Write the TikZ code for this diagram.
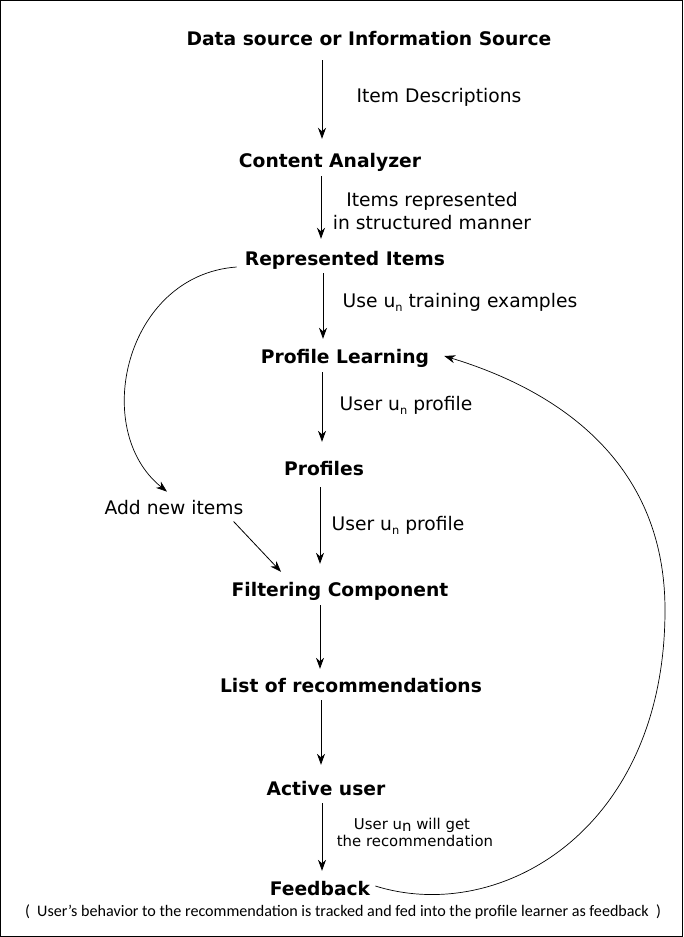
\documentclass[tikz,border=0pt]{standalone}
\usepackage{fontspec}
\setmainfont{DejaVu Sans}
\newfontfamily\notefont{Carlito}
\usetikzlibrary{arrows.meta}
\newcommand\subn{\raisebox{-0.22em}{\fontsize{11.4}{12}\selectfont n}}
\newcommand\lown{\raisebox{-0.2em}{n}}
\begin{document}
\begin{tikzpicture}[x=1pt,y=-1pt,
  head/.style={font=\fontsize{18.7}{20}\selectfont\bfseries, anchor=base, inner sep=0pt, text height=14pt, text depth=4pt},
  lab/.style={font=\fontsize{18.7}{21}\selectfont, anchor=base, inner sep=0pt},
  smalllab/.style={font=\fontsize{14.9}{17}\selectfont, anchor=base, inner sep=0pt},
  note/.style={font=\notefont\fontsize{16.1}{18}\selectfont, anchor=base, inner sep=0pt},
  arr/.style={draw, line width=0.8pt, -{Stealth[length=11pt,width=8pt,inset=3.5pt]}},
  curvearr/.style={draw, line width=0.7pt, -{Stealth[length=11pt,width=8pt,inset=3.5pt]}}
]
\useasboundingbox (0,0) rectangle (683,937);
\draw[line width=1pt] (0.5,0.5) rectangle (682.5,936.5);

% main nodes
\node[head] (ds) at (369,45) {Data source or Information Source};
\node[head] (ca) at (330,167) {Content Analyzer};
\node[head] (ri) at (345,265) {Represented Items};
\node[head] (pl) at (345,363) {Profile Learning};
\node[head] (pr) at (324,475) {Profiles};
\node[head] (fc) at (340,596) {Filtering Component};
\node[head] (lr) at (351,692) {List of recommendations};
\node[head] (au) at (326,795) {Active user};
\node[head] (fb) at (320,895) {Feedback};

% labels
\node[lab] (l1) at (439,102) {Item Descriptions};
\node[lab] (l2a) at (432,206) {Items represented};
\node[lab] (l2b) at (432,229) {in structured manner};
\node[lab] (l3) at (460,307) {Use u\subn{} training examples};
\node[lab] (l4) at (406,410) {User u\subn{} profile};
\node[lab] (l5) at (398,530) {User u\subn{} profile};
\node[lab] (an) at (174,514) {Add new items};
\node[smalllab] (l8a) at (412,829) {User u\lown{} will get};
\node[smalllab] (l8b) at (415,846) {the recommendation};
\node[note] (nt) at (343,916) {(\ \ User’s behavior to the recommendation is tracked and fed into the profile learner as feedback\ \ )};

% arrow axes
\coordinate (ax1) at (322,0);
\coordinate (ax2) at (321,0);
\coordinate (ax3) at (323,0);
\coordinate (ax4) at (322,0);
\coordinate (ax5) at (320,0);
\coordinate (ax6) at (320,0);
\coordinate (ax7) at (321,0);
\coordinate (ax8) at (322,0);

\draw[arr, shorten <=11pt, shorten >=14pt] (ds.south -| ax1) -- (ca.north -| ax1);
\draw[arr, shorten <=5pt, shorten >=12pt] (ca.south -| ax2) -- (ri.north -| ax2);
\draw[arr, shorten <=4pt, shorten >=10pt] (ri.south -| ax3) -- (pl.north -| ax3);
\draw[arr, shorten <=5pt, shorten >=19pt] (pl.south -| ax4) -- (pr.north -| ax4);
\draw[arr, shorten <=8pt, shorten >=18pt] (pr.south -| ax5) -- (fc.north -| ax5);
\draw[arr, shorten <=5pt, shorten >=9pt] (fc.south -| ax6) -- (lr.north -| ax6);
\draw[arr, shorten <=4pt, shorten >=16pt] (lr.south -| ax7) -- (au.north -| ax7);
\draw[arr, shorten <=4pt, shorten >=10pt] (au.south -| ax8) -- (fb.north -| ax8);

\draw[arr] ([shift={(-10,7)}]an.south east) -- ([shift={(-59,-10)}]fc.north);

\draw[curvearr] ([shift={(-8,7)}]ri.west) .. controls (125,275) and (90,430) .. ([shift={(-7,-8)}]an.north);

\draw[curvearr] ([shift={(5,-4)}]fb.east) .. controls (500,925) and (665,830) .. (665,610)
   .. controls (665,450) and (540,385) .. ([shift={(15,-2)}]pl.east);
\end{tikzpicture}
\end{document}
